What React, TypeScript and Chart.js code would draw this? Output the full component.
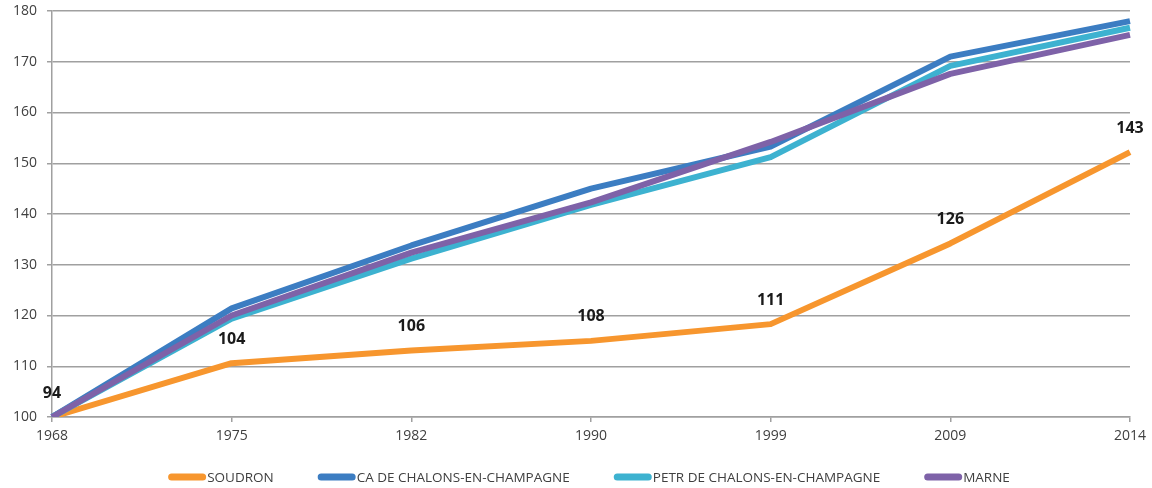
import React, { useEffect, useRef } from "react";
import { Chart, registerables } from "chart.js";

Chart.register(...registerables);

const years = ["1968", "1975", "1982", "1990", "1999", "2009", "2014"];
const soudron = [100, 110.6, 113.1, 115.0, 118.3, 134.2, 152.2];
const caChalons = [100, 121.4, 133.8, 145.0, 153.3, 171.0, 178.0];
const petrChalons = [100, 119.4, 131.2, 141.8, 151.2, 169.2, 176.7];
const marne = [100, 120.0, 132.4, 142.3, 154.2, 167.6, 175.3];
const soudronLabels = ["94", "104", "106", "108", "111", "126", "143"];
const seriesNames = [
  "SOUDRON",
  "CA DE CHALONS-EN-CHAMPAGNE",
  "PETR DE CHALONS-EN-CHAMPAGNE",
  "MARNE",
];
const seriesColors = ["#F7962E", "#3C7DC2", "#3DB2D0", "#7E62A8"];
const yMin = 100;
const yMax = 180;
const yStep = 10;

const FONT = "'Open Sans', 'DejaVu Sans', sans-serif";

const dataLabelPlugin = {
  id: "soudronLabels",
  afterDatasetsDraw(chart: any) {
    const meta = chart.getDatasetMeta(0);
    const ctx = chart.ctx;
    ctx.save();
    ctx.font = `bold 16px ${FONT}`;
    ctx.fillStyle = "#1a1a1a";
    ctx.textAlign = "center";
    ctx.textBaseline = "middle";
    meta.data.forEach((pt: any, i: number) => {
      ctx.fillText(soudronLabels[i], pt.x, pt.y - 24);
    });
    ctx.restore();
  },
};

const legendPlugin = {
  id: "lineLegend",
  afterDraw(chart: any) {
    const ctx = chart.ctx;
    const symW = 38;
    const symGap = 1;
    const itemGap = 44;
    ctx.save();
    ctx.font = `13.5px ${FONT}`;
    const widths = seriesNames.map((n) => ctx.measureText(n).width);
    const total =
      widths.reduce((a, w) => a + symW + symGap + w, 0) +
      itemGap * (seriesNames.length - 1);
    let x = chart.width / 2 + 13 - total / 2;
    const y = chart.height - 11;
    ctx.textBaseline = "middle";
    ctx.textAlign = "left";
    seriesNames.forEach((n, i) => {
      ctx.strokeStyle = seriesColors[i];
      ctx.lineWidth = 7;
      ctx.lineCap = "round";
      ctx.beginPath();
      ctx.moveTo(x + 3.5, y);
      ctx.lineTo(x + symW - 3.5, y);
      ctx.stroke();
      ctx.fillStyle = "#404040";
      ctx.fillText(n, x + symW + symGap, y + 1);
      x += symW + symGap + widths[i] + itemGap;
    });
    ctx.restore();
  },
};

export default function App() {
  const canvasRef = useRef<HTMLCanvasElement | null>(null);

  useEffect(() => {
    if (!canvasRef.current) return;
    const series = [soudron, caChalons, petrChalons, marne];
    const orders = [3, 2, 1, 0];
    const chart = new Chart(canvasRef.current, {
      type: "line",
      data: {
        labels: years,
        datasets: series.map((d, i) => ({
          label: seriesNames[i],
          data: d,
          borderColor: seriesColors[i],
          backgroundColor: seriesColors[i],
          borderWidth: 6,
          pointRadius: 0,
          tension: 0,
          borderJoinStyle: "round" as const,
          order: orders[i],
        })),
      },
      options: {
        responsive: false,
        animation: false,
        events: [],
        layout: { padding: { left: 0, right: 20, top: 11, bottom: 43 } },
        plugins: {
          tooltip: { enabled: false },
          legend: { display: false },
        },
        scales: {
          x: {
            type: "category",
            offset: false,
            afterFit: (s: any) => {
              s.height = 28;
            },
            grid: {
              drawOnChartArea: false,
              drawTicks: true,
              tickLength: 5,
              color: "#a0a0a0",
              lineWidth: 1.5,
            },
            border: { color: "#a0a0a0", width: 1.5 },
            ticks: {
              color: "#404040",
              font: { family: FONT, size: 14 },
              padding: 6,
              maxRotation: 0,
              autoSkip: false,
            },
          },
          y: {
            min: yMin,
            max: yMax,
            afterFit: (s: any) => {
              s.width = 52;
              s.paddingTop = 0;
              s.paddingBottom = 0;
            },
            grid: {
              color: "#a0a0a0",
              lineWidth: 1.5,
              tickLength: 5,
            },
            border: { color: "#a0a0a0", width: 1.5 },
            ticks: {
              stepSize: yStep,
              color: "#404040",
              font: { family: FONT, size: 14 },
              padding: 10,
            },
          },
        },
      },
      plugins: [dataLabelPlugin, legendPlugin],
    });
    return () => chart.destroy();
  }, []);

  return (
    <div
      style={{
        position: "absolute",
        left: 0,
        top: 0,
        width: 1152,
        height: 488,
        background: "#ffffff",
      }}
    >
      <canvas ref={canvasRef} width={1152} height={488} />
    </div>
  );
}
